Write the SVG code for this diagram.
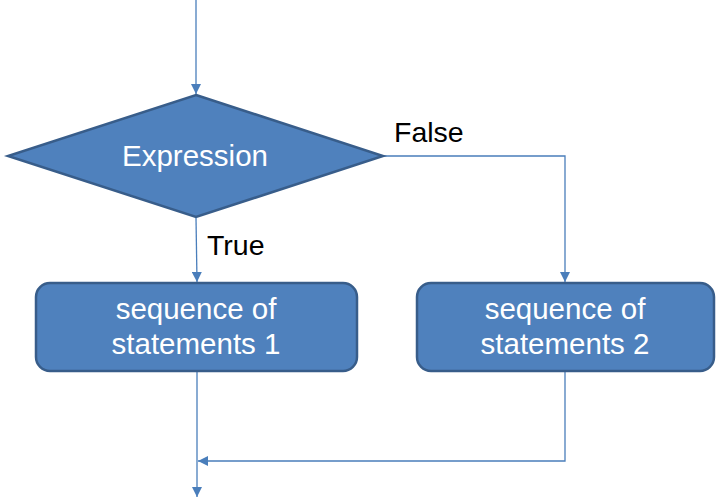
<svg xmlns="http://www.w3.org/2000/svg" width="727" height="503" viewBox="0 0 727 503">
<defs>
<style>
.shape{fill:#4F81BD;stroke:#385D8A;stroke-width:2.5}
.conn{fill:none;stroke:#4A7EBB;stroke-width:1.3}
.ntext{font-family:"Liberation Sans",Arial,sans-serif;font-size:29.5px;fill:#FFFFFF;text-anchor:middle}
.lbl{font-family:"Liberation Sans",Arial,sans-serif;font-size:28.5px;fill:#000000}
</style>
<marker id="arr" viewBox="0 0 10 10" refX="10" refY="5" markerWidth="10" markerHeight="10" markerUnits="userSpaceOnUse" orient="auto">
<path d="M0,0 L10,5 L0,10 Z" fill="#4A7EBB"/>
</marker>
</defs>
<g id="connectors">
<path class="conn" d="M196,0 L196,94" marker-end="url(#arr)"/>
<path class="conn" d="M196,218 L197,282" marker-end="url(#arr)"/>
<path class="conn" d="M383,156 L565,156 L565,282" marker-end="url(#arr)"/>
<path class="conn" d="M197,371 L197,497" marker-end="url(#arr)"/>
<path class="conn" d="M565,371 L565,461 L198,461" marker-end="url(#arr)"/>
</g>
<g id="decision">
<polygon class="shape" points="196,95 383,156 196,217 8,156"/>
<text class="ntext" x="195" y="166">Expression</text>
</g>
<g id="stmt1">
<rect class="shape" x="36" y="283" width="321" height="88" rx="14" ry="14"/>
<text class="ntext" x="196" y="319">sequence of</text>
<text class="ntext" x="196" y="354">statements 1</text>
</g>
<g id="stmt2">
<rect class="shape" x="417" y="283" width="297" height="88" rx="14" ry="14"/>
<text class="ntext" x="565" y="319">sequence of</text>
<text class="ntext" x="565" y="354">statements 2</text>
</g>
<g id="labels">
<text class="lbl" x="394" y="142">False</text>
<text class="lbl" x="207" y="255">True</text>
</g>
</svg>
